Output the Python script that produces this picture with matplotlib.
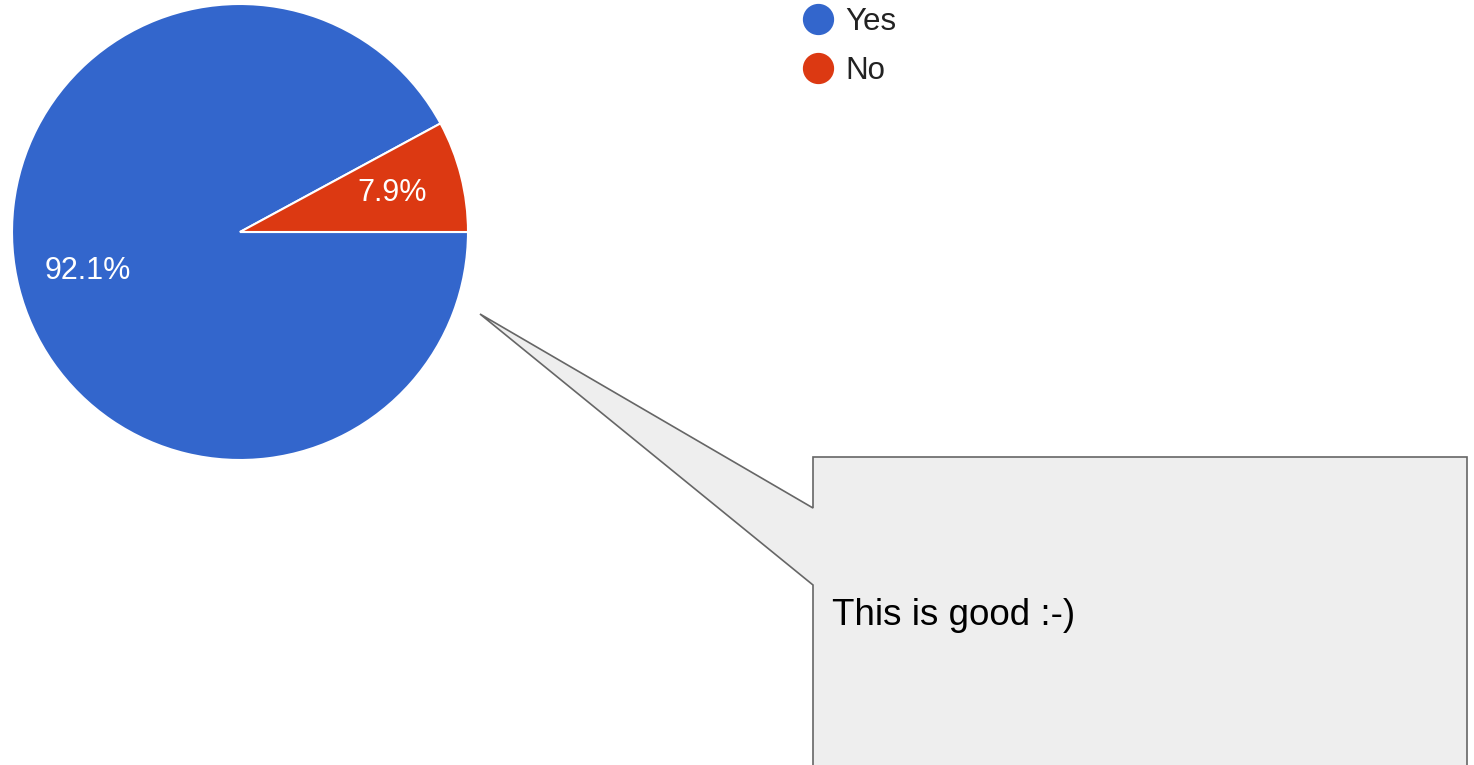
import matplotlib.pyplot as plt
from matplotlib.patches import Polygon
from matplotlib.lines import Line2D

# 数据
labels = ['Yes', 'No']
shares = [92.1, 7.9]
colors = ['#3366CC', '#DC3912']
note = 'This is good :-)'

W, H = 1474, 765
plt.rcParams['font.family'] = ['Liberation Sans', 'DejaVu Sans']

fig = plt.figure(figsize=(W / 100, H / 100), dpi=100)
ax = fig.add_axes([0, 0, 1, 1])


def py(y):
    # 像素坐标(从上往下) -> 数据坐标
    return H - y


wedges, texts, autotexts = ax.pie(
    shares, colors=colors, startangle=0, counterclock=False,
    center=(240, py(232)), radius=228, autopct='%.1f%%', pctdistance=0.69,
    wedgeprops=dict(edgecolor='white', linewidth=1.5),
    textprops=dict(color='white', fontsize=22))

# 批注框
pts = [(480, 314), (813, 508), (813, 457), (1467, 457), (1467, 780),
       (813, 780), (813, 585)]
ax.add_patch(Polygon([(x, py(y)) for x, y in pts], closed=True,
                     facecolor='#EEEEEE', edgecolor='#666666', linewidth=1.2))
ax.text(832, py(625), note, fontsize=26.5, color='black', va='baseline', ha='left')

# 图例
handles = [Line2D([], [], marker='o', linestyle='none', markersize=21.5,
                  markerfacecolor=c, markeredgecolor=c) for c in colors]
ax.legend(handles, labels, loc='upper left', bbox_to_anchor=(777 / W, 1 + 15 / H),
          frameon=False, fontsize=22.5, labelcolor='#222222', handlelength=1.2,
          handletextpad=0.3, labelspacing=0.6, borderpad=0.2)

ax.set_xlim(0, W)
ax.set_ylim(0, H)
ax.axis('off')
fig.savefig('out.png', dpi=100)
